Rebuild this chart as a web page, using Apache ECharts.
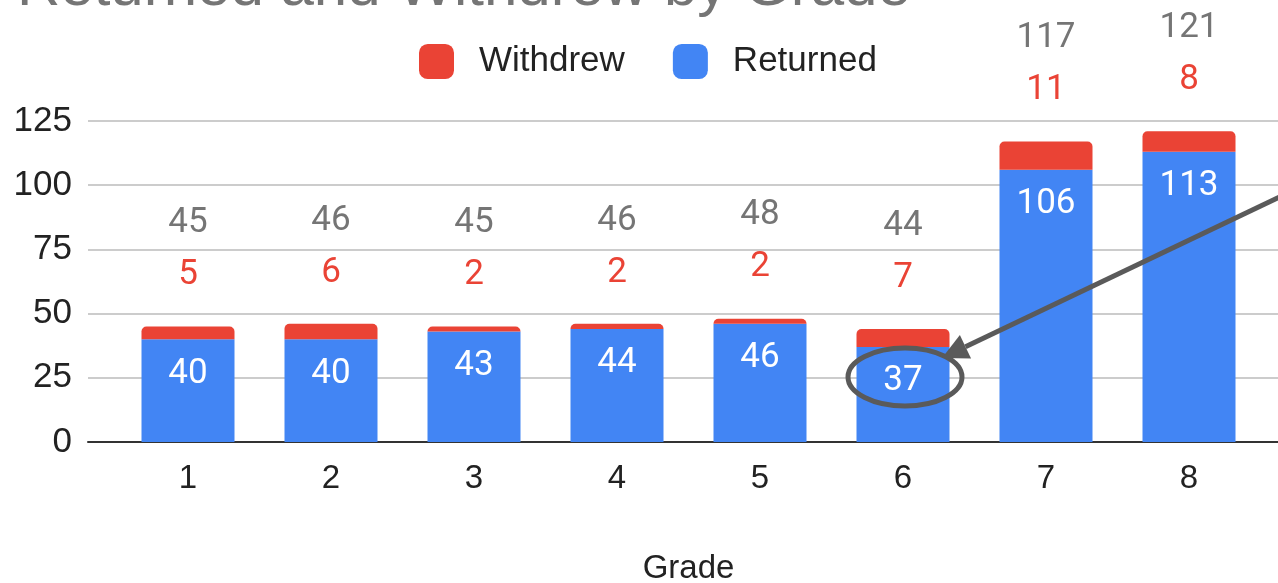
<!DOCTYPE html>
<html>
<head>
<meta charset="utf-8">
<script src="https://cdn.jsdelivr.net/npm/echarts@6/dist/echarts.min.js"></script>
<style>
  html, body { margin: 0; padding: 0; background: #fff; }
  #chart { width: 1278px; height: 583px; }
</style>
</head>
<body>
<div id="chart"></div>
<script>
const grades = ["1", "2", "3", "4", "5", "6", "7", "8"]
const returned = [40, 40, 43, 44, 46, 37, 106, 113]
const withdrew = [5, 6, 2, 2, 2, 7, 11, 8]
const yTicks = { min: 0, max: 125, interval: 25 }

const totals = returned.map((v, i) => v + withdrew[i])

const chart = echarts.init(document.getElementById("chart"))

const option = {
  animation: false,
  backgroundColor: "#fff",
  title: {
    text: "Returned and Withdrew by Grade",
    left: 12,
    top: -47,
    textStyle: {
      fontFamily: "Liberation Sans, Arial, sans-serif",
      fontSize: 60,
      fontWeight: "normal",
      color: "#757575"
    }
  },
  legend: {
    data: ["Withdrew", "Returned"],
    left: 414,
    top: 39,
    icon: "roundRect",
    itemWidth: 35,
    itemHeight: 35,
    itemGap: 48,
    textStyle: {
      fontFamily: "Liberation Sans, Arial, sans-serif",
      fontSize: 35,
      color: "#222",
      padding: [0, 0, 0, 20]
    }
  },
  grid: [
    // full-width grid for gridlines + baseline
    { left: 88, right: 0, top: 121, bottom: 141, outerBoundsMode: "none" },
    // bar grid, categories 143px wide
    { left: 116.5, right: 17.5, top: 121, bottom: 141, outerBoundsMode: "none" }
  ],
  xAxis: [
    {
      type: "category",
      gridIndex: 0,
      data: [],
      axisLine: { lineStyle: { color: "#333", width: 2 } },
      axisTick: { show: false },
      axisLabel: { show: false }
    },
    {
      type: "category",
      gridIndex: 1,
      data: grades,
      axisLine: { show: false },
      axisTick: { show: false },
      axisLabel: {
        margin: 20,
        fontFamily: "Liberation Sans, Arial, sans-serif",
        fontSize: 33,
        color: "#222"
      },
      name: "Grade",
      nameLocation: "middle",
      nameGap: 110,
      nameTextStyle: {
        fontFamily: "Liberation Sans, Arial, sans-serif",
        fontSize: 33,
        color: "#222"
      }
    }
  ],
  yAxis: [
    {
      type: "value",
      gridIndex: 0,
      min: yTicks.min,
      max: yTicks.max,
      interval: yTicks.interval,
      axisLine: { show: false },
      axisTick: { show: false },
      splitLine: { lineStyle: { color: "#ccc", width: 2 } },
      axisLabel: {
        margin: 16,
        fontFamily: "Liberation Sans, Arial, sans-serif",
        fontSize: 35,
        color: "#222"
      }
    },
    {
      type: "value",
      gridIndex: 1,
      min: yTicks.min,
      max: yTicks.max,
      interval: yTicks.interval,
      show: false,
      splitLine: { show: false }
    }
  ],
  series: [
    {
      name: "Returned",
      type: "bar",
      stack: "total",
      xAxisIndex: 1,
      yAxisIndex: 1,
      barWidth: 93,
      data: returned,
      itemStyle: { color: "#4285F4" },
      label: {
        show: true,
        position: "insideTop",
        distance: 17,
        fontFamily: "Roboto",
        fontSize: 35,
        color: "#fff"
      }
    },
    {
      name: "Withdrew",
      type: "bar",
      stack: "total",
      xAxisIndex: 1,
      yAxisIndex: 1,
      barWidth: 93,
      data: withdrew,
      itemStyle: { color: "#EA4335", borderRadius: [5, 5, 0, 0] },
      label: {
        show: true,
        position: "top",
        distance: 25,
        formatter: (p) => "{t|" + totals[p.dataIndex] + "}\n{w|" + p.value + "}",
        rich: {
          t: { fontFamily: "Roboto", fontSize: 35, color: "#757575", lineHeight: 52 },
          w: { fontFamily: "Roboto", fontSize: 35, color: "#EA4335", lineHeight: 52 }
        }
      }
    }
  ]
}

chart.setOption(option)

// annotation: circle around grade 6 returned label + arrow from the right
const c = chart.convertToPixel({ gridIndex: 1 }, [5, returned[5]])
const cx = c[0] + 2
const cy = c[1] + 30
const tip = [cx + 37, cy - 19]
const tail = [cx + 400, cy - 192]
const dx = tip[0] - tail[0]
const dy = tip[1] - tail[1]
const len = Math.sqrt(dx * dx + dy * dy)
const ux = dx / len
const uy = dy / len
const headLen = 26
const headW = 13
const base = [tip[0] - ux * headLen, tip[1] - uy * headLen]

chart.setOption({
  graphic: [
    {
      type: "ellipse",
      shape: { cx: cx, cy: cy, rx: 57, ry: 29 },
      style: { fill: null, stroke: "#5a5a5a", lineWidth: 5 },
      z: 100
    },
    {
      type: "line",
      shape: { x1: tail[0], y1: tail[1], x2: base[0], y2: base[1] },
      style: { stroke: "#5a5a5a", lineWidth: 5 },
      z: 100
    },
    {
      type: "polygon",
      shape: {
        points: [
          tip,
          [base[0] - uy * headW, base[1] + ux * headW],
          [base[0] + uy * headW, base[1] - ux * headW]
        ]
      },
      style: { fill: "#5a5a5a" },
      z: 100
    }
  ]
})
</script>
</body>
</html>
